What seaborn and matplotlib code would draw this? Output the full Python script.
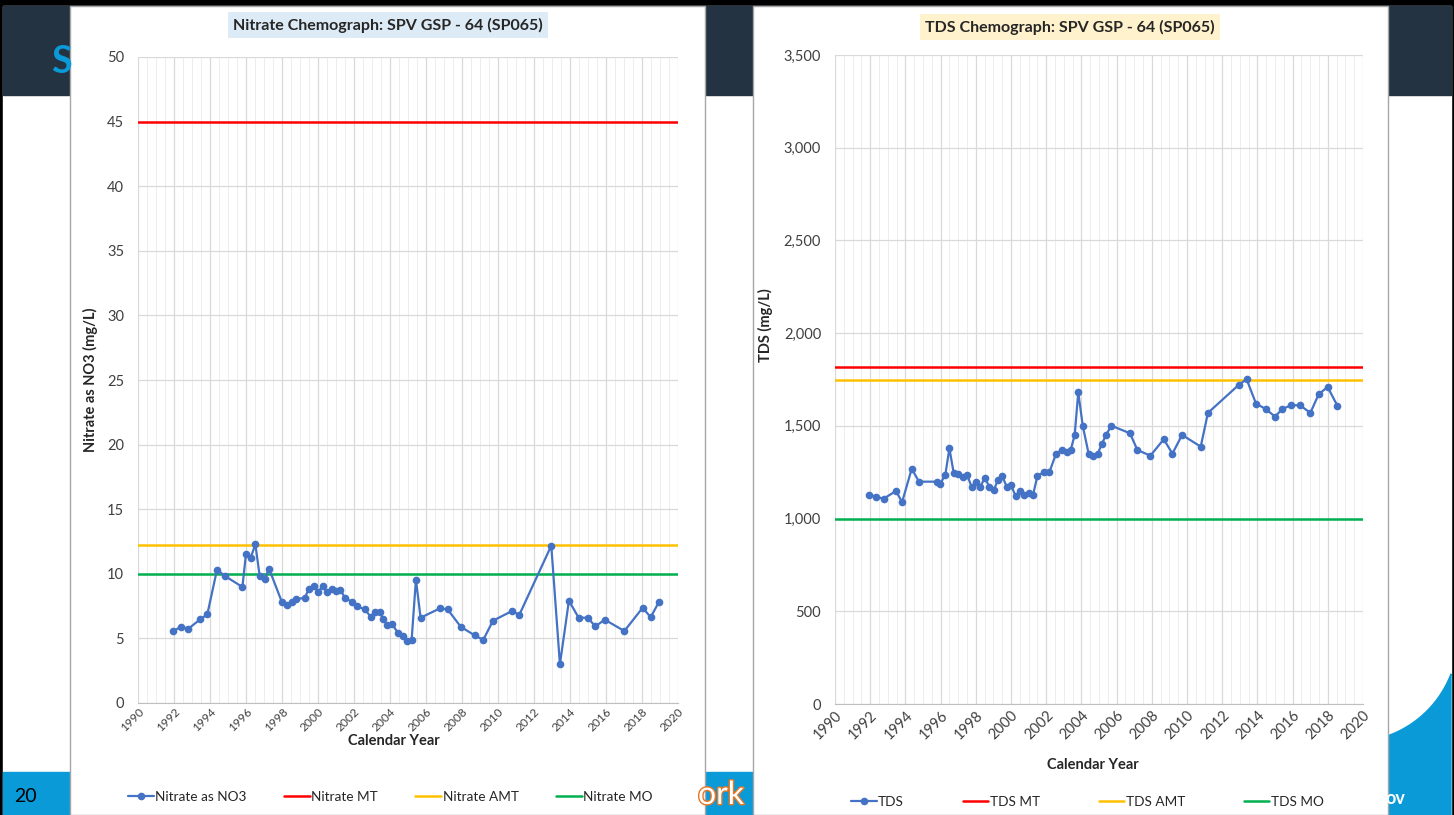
import matplotlib
matplotlib.use('Agg')
import matplotlib.pyplot as plt
import matplotlib.patheffects as pe
import seaborn as sns
import pandas as pd
import numpy as np
from matplotlib.patches import Rectangle, Polygon
from matplotlib.ticker import MultipleLocator, FuncFormatter

# ---------------- data ----------------
nitrate_years = [1991.96, 1992.39, 1992.8, 1993.46, 1993.85, 1994.39, 1994.83, 1995.8, 1996.0, 1996.26,
                 1996.52, 1996.76, 1997.04, 1997.28, 1998.0, 1998.28, 1998.54, 1998.78, 1999.26, 1999.5,
                 1999.76, 2000.02, 2000.26, 2000.52, 2000.76, 2001.0, 2001.24, 2001.52, 2001.91, 2002.17,
                 2002.59, 2002.93, 2003.18, 2003.44, 2003.61, 2003.85, 2004.13, 2004.43, 2004.7, 2004.93,
                 2005.2, 2005.44, 2005.7, 2006.78, 2007.2, 2007.93, 2008.7, 2009.18, 2009.72, 2010.78,
                 2011.18, 2012.96, 2013.44, 2013.94, 2014.48, 2014.98, 2015.41, 2015.93, 2017.02, 2018.04,
                 2018.48, 2018.94]
nitrate_values = [5.57, 5.9, 5.75, 6.48, 6.86, 10.32, 9.83, 8.98, 11.56, 11.25,
                  12.28, 9.83, 9.62, 10.4, 7.79, 7.56, 7.79, 8.05, 8.13, 8.85,
                  9.03, 8.62, 9.03, 8.59, 8.82, 8.67, 8.75, 8.1, 7.82, 7.48,
                  7.25, 6.68, 7.07, 7.04, 6.5, 6.04, 6.09, 5.44, 5.19, 4.78,
                  4.85, 9.55, 6.6, 7.33, 7.25, 5.9, 5.24, 4.88, 6.37, 7.12,
                  6.81, 12.18, 3.0, 7.92, 6.6, 6.6, 5.93, 6.45, 5.57, 7.38,
                  6.63, 7.82]
nitrate_mt = 45.0
nitrate_amt = 12.2
nitrate_mo = 10.0

tds_years = [1991.93, 1992.35, 1992.76, 1993.47, 1993.81, 1994.36, 1994.77, 1995.78, 1995.98, 1996.27,
             1996.5, 1996.74, 1997.0, 1997.27, 1997.5, 1997.77, 1998.01, 1998.26, 1998.5, 1998.77,
             1999.03, 1999.26, 1999.51, 1999.76, 2000.0, 2000.27, 2000.51, 2000.74, 2001.0, 2001.25,
             2001.5, 2001.86, 2002.18, 2002.56, 2002.92, 2003.17, 2003.39, 2003.62, 2003.82, 2004.08,
             2004.41, 2004.68, 2004.93, 2005.15, 2005.4, 2005.7, 2006.76, 2007.18, 2007.92, 2008.68,
             2009.17, 2009.72, 2010.78, 2011.19, 2012.94, 2013.39, 2013.92, 2014.47, 2015.0, 2015.42,
             2015.91, 2016.42, 2017.01, 2017.48, 2017.99, 2018.54]
tds_values = [1129, 1118, 1107, 1149, 1088, 1269, 1199, 1199, 1187, 1237,
              1379, 1248, 1241, 1226, 1237, 1169, 1199, 1169, 1221, 1172,
              1156, 1208, 1228, 1170, 1180, 1120, 1149, 1126, 1138, 1126,
              1230, 1250, 1250, 1350, 1372, 1359, 1370, 1451, 1681, 1499,
              1350, 1339, 1350, 1400, 1451, 1501, 1460, 1370, 1339, 1428,
              1350, 1451, 1388, 1570, 1721, 1751, 1620, 1591, 1550, 1591,
              1611, 1611, 1570, 1670, 1710, 1609]
tds_mt = 1820
tds_amt = 1750
tds_mo = 1000

x_ticks = list(range(1990, 2021, 2))
nitrate_title = "Nitrate Chemograph: SPV GSP - 64 (SP065)"
tds_title = "TDS Chemograph: SPV GSP - 64 (SP065)"
nitrate_labels = ["Nitrate as NO3", "Nitrate MT", "Nitrate AMT", "Nitrate MO"]
tds_labels = ["TDS", "TDS MT", "TDS AMT", "TDS MO"]

# ---------------- style ----------------
sns.set_style('white')
plt.rcParams['font.family'] = ['Lato', 'DejaVu Sans']

W, H = 1454, 815
fig = plt.figure(figsize=(W / 100, H / 100), dpi=100, facecolor='black')


def fx(x):
    return x / W


def fy(y):
    return 1 - y / H


def rect_ax(l, t, r, b):
    return [l / W, 1 - b / H, (r - l) / W, (b - t) / H]


NAVY = '#243342'
BLUE = '#0A9AD8'
C_DATA = '#4472C4'
C_MT = '#FF0000'
C_AMT = '#FFC000'
C_MO = '#00B050'

# ---------------- slide background ----------------
bg = fig.add_axes([0, 0, 1, 1], zorder=-10)
bg.set_xlim(0, W)
bg.set_ylim(H, 0)
bg.axis('off')
bg.add_patch(Rectangle((3, 6), W - 6, H - 6, color='white'))
bg.add_patch(Rectangle((3, 6), W - 6, 89, color=NAVY))
bg.add_patch(Rectangle((3, 772), 1390, H - 772, color=BLUE))
xs = np.linspace(1380, 1451, 80)
cx, cy, r = 1352, 636, 106
ys = cy + np.sqrt(np.clip(r ** 2 - (xs - cx) ** 2, 0, None))
bg.add_patch(Polygon(list(zip(xs, ys)) + [(1451, H), (1380, H)], closed=True, color=BLUE))
bg.text(61, 62, 'S', color=BLUE, fontsize=27, fontweight='bold', ha='center', va='center')
bg.text(14, 797, '20', color='black', fontsize=14, ha='left', va='center')
bg.text(698, 795, 'ork', color='white', fontsize=23, ha='left', va='center',
        path_effects=[pe.withStroke(linewidth=2, foreground='#E87722')])
bg.text(1385, 798, 'ov', color='white', fontsize=13, fontweight='bold', ha='left', va='center')
# panels
bg.add_patch(Rectangle((70, 6), 635, H - 6, facecolor='white', edgecolor='#A6A6A6', lw=1))
bg.add_patch(Rectangle((753, 6), 635, H - 6, facecolor='white', edgecolor='#A6A6A6', lw=1))


def style_axis(ax, ymax, ystep, fmt, xfs):
    ax.set_xlim(1990, 2020)
    ax.set_ylim(0, ymax)
    ax.set_xticks(x_ticks)
    ax.xaxis.set_minor_locator(MultipleLocator(0.5))
    ax.yaxis.set_major_locator(MultipleLocator(ystep))
    ax.yaxis.set_major_formatter(FuncFormatter(fmt))
    ax.grid(which='major', axis='both', color='#D9D9D9', lw=0.9)
    ax.grid(which='minor', axis='x', color='#EDEDED', lw=0.7)
    ax.set_axisbelow(True)
    ax.tick_params(which='both', length=0, labelsize=10.5, colors='#404040')
    ax.tick_params(axis='x', labelsize=xfs, pad=3)
    ax.tick_params(axis='y', pad=10)
    for s in ['top', 'right', 'left']:
        ax.spines[s].set_visible(False)
    ax.spines['bottom'].set_color('#BFBFBF')
    plt.setp(ax.get_xticklabels(), rotation=45, ha='right', rotation_mode='anchor', color='#404040')
    for t in ax.get_yticklabels():
        t.set_color('#404040')


# ---------------- nitrate chart ----------------
ax1 = fig.add_axes(rect_ax(138, 57, 678, 703))
df1 = pd.DataFrame({'year': nitrate_years, 'value': nitrate_values})
sns.lineplot(data=df1, x='year', y='value', ax=ax1, color=C_DATA, marker='o', markersize=5.5,
             markeredgewidth=0, lw=1.6, sort=False, estimator=None, label=nitrate_labels[0], zorder=3)
ax1.axhline(nitrate_mt, color=C_MT, lw=1.8, label=nitrate_labels[1], zorder=2)
ax1.axhline(nitrate_amt, color=C_AMT, lw=1.8, label=nitrate_labels[2], zorder=2)
ax1.axhline(nitrate_mo, color=C_MO, lw=1.8, label=nitrate_labels[3], zorder=2)
style_axis(ax1, 50, 5, lambda v, p: f"{v:.0f}", 8.6)
ax1.tick_params(axis='x', pad=2)
ax1.set_xlabel('Calendar Year', fontsize=10.5, fontweight='bold', color='#262626')
ax1.xaxis.set_label_coords((394 - 138) / 540, (703 - 734) / 646)
ax1.set_ylabel('Nitrate as NO3 (mg/L)', fontsize=10.5, fontweight='bold', color='#262626')
ax1.yaxis.set_label_coords((98 - 138) / 540, 0.5)
h, l = ax1.get_legend_handles_labels()
ax1.legend(h, l, loc='center left', bbox_to_anchor=(fx(128), fy(797)), bbox_transform=fig.transFigure,
           ncol=4, frameon=False, columnspacing=2.75, handlelength=1.9, handletextpad=0.1,
           fontsize=9.8, borderaxespad=0, borderpad=0)
fig.text(fx(388), fy(25), nitrate_title, ha='center', va='center', fontsize=11.5, fontweight='bold',
         color='#262626', bbox=dict(boxstyle='square,pad=0.35', fc='#DDEBF7', ec='none'))

# ---------------- TDS chart ----------------
ax2 = fig.add_axes(rect_ax(835, 55, 1363, 704))
df2 = pd.DataFrame({'year': tds_years, 'value': tds_values})
sns.lineplot(data=df2, x='year', y='value', ax=ax2, color=C_DATA, marker='o', markersize=5.5,
             markeredgewidth=0, lw=1.6, sort=False, estimator=None, label=tds_labels[0], zorder=3)
ax2.axhline(tds_mt, color=C_MT, lw=1.8, label=tds_labels[1], zorder=2)
ax2.axhline(tds_amt, color=C_AMT, lw=1.8, label=tds_labels[2], zorder=2)
ax2.axhline(tds_mo, color=C_MO, lw=1.8, label=tds_labels[3], zorder=2)
style_axis(ax2, 3500, 500, lambda v, p: f"{v:,.0f}", 10.5)
ax2.set_xlabel('Calendar Year', fontsize=10.5, fontweight='bold', color='#262626')
ax2.xaxis.set_label_coords((1093 - 835) / 528, (704 - 758) / 649)
ax2.set_ylabel('TDS (mg/L)', fontsize=10.5, fontweight='bold', color='#262626')
ax2.yaxis.set_label_coords((773 - 835) / 528, (704 - 325) / 649)
h, l = ax2.get_legend_handles_labels()
ax2.legend(h, l, loc='center left', bbox_to_anchor=(fx(851), fy(802)), bbox_transform=fig.transFigure,
           ncol=4, frameon=False, columnspacing=4.3, handlelength=1.9, handletextpad=0.1,
           fontsize=9.8, borderaxespad=0, borderpad=0)
fig.text(fx(1070), fy(27), tds_title, ha='center', va='center', fontsize=11.5, fontweight='bold',
         color='#262626', bbox=dict(boxstyle='square,pad=0.35', fc='#FFF2CC', ec='none'))

fig.savefig('out.png', dpi=100, facecolor=fig.get_facecolor())
